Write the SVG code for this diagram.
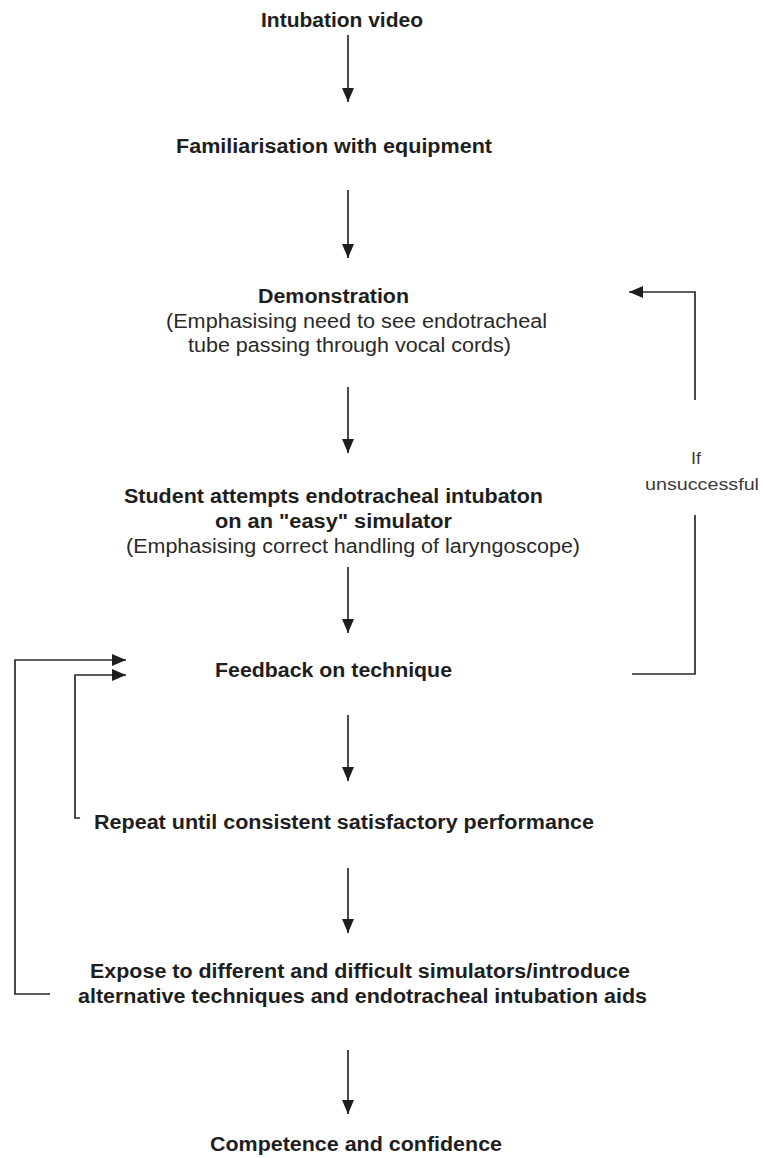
<svg xmlns="http://www.w3.org/2000/svg" width="763" height="1158" viewBox="0 0 763 1158">
<defs>
<style>
.b{font-family:"Liberation Sans",Arial,sans-serif;font-weight:bold;font-size:20px;fill:#1e1e1e}
.r{font-family:"Liberation Sans",Arial,sans-serif;font-size:19.5px;fill:#2a2a2a}
.s{font-family:"Liberation Sans",Arial,sans-serif;font-size:16.5px;fill:#3a3a3a}
.c{fill:none;stroke:#2a2a2a;stroke-width:1.7}
</style>
<marker id="ah" viewBox="0 0 14 12" refX="14" refY="6" markerWidth="14" markerHeight="12" markerUnits="userSpaceOnUse" orient="auto">
<path d="M0,0 L14,6 L0,12 z" fill="#1e1e1e"/>
</marker>
</defs>
<rect width="763" height="1158" fill="#ffffff"/>
<g id="connectors">
<path class="c" d="M348,35 V102" marker-end="url(#ah)"/>
<path class="c" d="M348,190 V258" marker-end="url(#ah)"/>
<path class="c" d="M348,387 V453" marker-end="url(#ah)"/>
<path class="c" d="M348,567 V633" marker-end="url(#ah)"/>
<path class="c" d="M348,715 V781" marker-end="url(#ah)"/>
<path class="c" d="M348,868 V933" marker-end="url(#ah)"/>
<path class="c" d="M348,1050 V1114" marker-end="url(#ah)"/>
<path class="c" d="M632,674 H695 V515"/>
<path class="c" d="M695,400 V292 H629" marker-end="url(#ah)"/>
<path class="c" d="M80,818 H75 V675 H126" marker-end="url(#ah)"/>
<path class="c" d="M50,994 H15 V660 H126" marker-end="url(#ah)"/>
</g>
<g id="n1"><text class="b" x="261" y="27" textLength="162" lengthAdjust="spacingAndGlyphs">Intubation video</text></g>
<g id="n2"><text class="b" x="176" y="153" textLength="316" lengthAdjust="spacingAndGlyphs">Familiarisation with equipment</text></g>
<g id="n3">
<text class="b" x="258" y="303" textLength="151" lengthAdjust="spacingAndGlyphs">Demonstration</text>
<text class="r" x="166" y="328" textLength="381" lengthAdjust="spacingAndGlyphs">(Emphasising need to see endotracheal</text>
<text class="r" x="188" y="352" textLength="323" lengthAdjust="spacingAndGlyphs">tube passing through vocal cords)</text>
</g>
<g id="n4">
<text class="b" x="124" y="503" textLength="419" lengthAdjust="spacingAndGlyphs">Student attempts endotracheal intubaton</text>
<text class="b" x="215" y="528" textLength="237" lengthAdjust="spacingAndGlyphs">on an "easy" simulator</text>
<text class="r" x="126" y="553" textLength="454" lengthAdjust="spacingAndGlyphs">(Emphasising correct handling of laryngoscope)</text>
</g>
<g id="n5"><text class="b" x="215" y="677" textLength="237" lengthAdjust="spacingAndGlyphs">Feedback on technique</text></g>
<g id="n6"><text class="b" x="94" y="829" textLength="500" lengthAdjust="spacingAndGlyphs">Repeat until consistent satisfactory performance</text></g>
<g id="n7">
<text class="b" x="90" y="978" textLength="540" lengthAdjust="spacingAndGlyphs">Expose to different and difficult simulators/introduce</text>
<text class="b" x="78" y="1003" textLength="569" lengthAdjust="spacingAndGlyphs">alternative techniques and endotracheal intubation aids</text>
</g>
<g id="n8"><text class="b" x="210" y="1151" textLength="292" lengthAdjust="spacingAndGlyphs">Competence and confidence</text></g>
<g id="label-unsuccessful">
<text class="s" x="691" y="464" textLength="10" lengthAdjust="spacingAndGlyphs">If</text>
<text class="s" x="645" y="490" textLength="114" lengthAdjust="spacingAndGlyphs">unsuccessful</text>
</g>
</svg>
